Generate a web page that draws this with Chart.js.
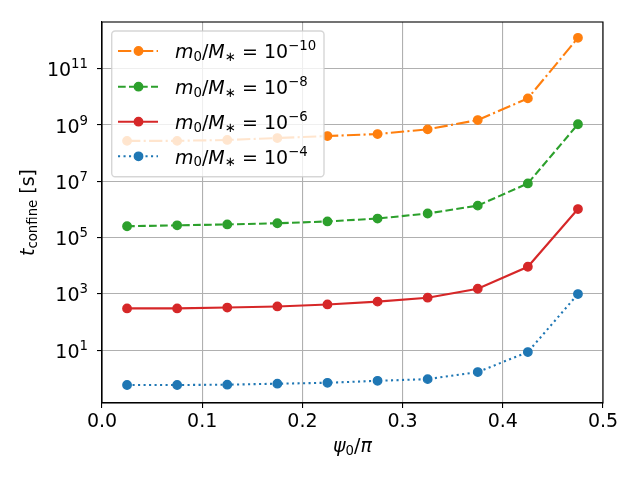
<!DOCTYPE html>
<html>
<head>
<meta charset="utf-8">
<script src="https://cdn.jsdelivr.net/npm/chart.js@4/dist/chart.umd.min.js"></script>
<style>
  html, body { margin: 0; padding: 0; background: #fff; }
  #wrap { width: 640px; height: 480px; }
</style>
</head>
<body>
<div id="wrap"><canvas id="c" width="640" height="480"></canvas></div>
<script>
// psi_0 / pi positions
const xVals = [0.025, 0.075, 0.125, 0.175, 0.225, 0.275, 0.325, 0.375, 0.425, 0.475];

// confinement time [s] for each mass ratio
const tRatio10 = [2.7e8, 2.7e8, 2.9e8, 3.4e8, 4.0e8, 4.7e8, 6.9e8, 1.48e9, 8.7e9, 1.23e12];
const tRatio8  = [2.5e5, 2.7e5, 2.9e5, 3.2e5, 3.7e5, 4.7e5, 7.1e5, 1.35e6, 8.3e6, 1.05e9];
const tRatio6  = [302, 302, 324, 355, 417, 525, 725, 1510, 9100, 1.02e6];
const tRatio4  = [0.575, 0.575, 0.59, 0.64, 0.69, 0.81, 0.93, 1.66, 8.5, 977];

const ratioExps = [-10, -8, -6, -4];
const xTicks = [0, 0.1, 0.2, 0.3, 0.4, 0.5];
const yTickExps = [1, 3, 5, 7, 9, 11];

const FONT = '"DejaVu Sans"';
const FS = 19;

const series = [
    { vals: tRatio10, color: '#ff7f0e', dash: [13.3, 3.3, 2.1, 3.3] },
    { vals: tRatio8,  color: '#2ca02c', dash: [7.7, 3.3] },
    { vals: tRatio6,  color: '#d62728', dash: [] },
    { vals: tRatio4,  color: '#1f77b4', dash: [2.1, 3.4] }
];

const datasets = series.map((s, k) => ({
    label: 'm0/M* = 10^' + ratioExps[k],
    data: xVals.map((x, i) => ({ x: x, y: s.vals[i] })),
    borderColor: s.color,
    backgroundColor: s.color,
    borderWidth: 2.1,
    borderDash: s.dash,
    pointRadius: 4.2,
    pointBorderWidth: 1.4,
    pointHoverRadius: 4.2,
    tension: 0
}));

// --- small mathtext-like helpers ---
function runFont(r, size) {
    const sz = (r.sub || r.sup) ? size * 0.7 : size;
    return (r.it ? 'italic ' : '') + sz + 'px ' + FONT;
}
function runsWidth(ctx, runs, size) {
    let w = 0;
    runs.forEach(r => { ctx.font = runFont(r, size); w += ctx.measureText(r.t).width; });
    return w;
}
function drawRuns(ctx, runs, x, y, size) {
    ctx.textAlign = 'left';
    ctx.textBaseline = 'alphabetic';
    runs.forEach(r => {
        ctx.font = runFont(r, size);
        let dy = 0;
        if (r.sub) dy = size * 0.15;
        if (r.sup) dy = -size * 0.42;
        ctx.fillText(r.t, x, y + dy);
        x += ctx.measureText(r.t).width;
    });
}
function expRuns(e) {
    return [{ t: '10' }, { t: String(e).replace('-', '\u2212'), sup: true }];
}
function legendRuns(e) {
    return [{ t: 'm', it: true }, { t: '0', sub: true }, { t: '/' }, { t: 'M', it: true },
            { t: '\u2217', sub: true }, { t: ' = ' }].concat(expRuns(e));
}

const decor = {
    id: 'decor',
    beforeDraw(chart) {
        const ctx = chart.ctx;
        ctx.save();
        ctx.fillStyle = '#fff';
        ctx.fillRect(0, 0, chart.width, chart.height);
        ctx.restore();
    },
    afterDatasetsDraw(chart) {
        const ctx = chart.ctx, a = chart.chartArea;
        ctx.save();
        // spines
        ctx.strokeStyle = '#000';
        ctx.lineWidth = 1.1;
        ctx.strokeRect(a.left, a.top, a.right - a.left, a.bottom - a.top);

        // legend box
        const lx = 111.7, ly = 31, lw = 212.3, lh = 145.7, rad = 3.5;
        ctx.beginPath();
        ctx.roundRect(lx, ly, lw, lh, rad);
        ctx.fillStyle = 'rgba(255,255,255,0.8)';
        ctx.fill();
        ctx.strokeStyle = 'rgba(204,204,204,0.8)';
        ctx.lineWidth = 1.4;
        ctx.stroke();

        const rows = [51, 86.7, 121.7, 156.3];
        chart.data.datasets.forEach((ds, k) => {
            const y = rows[k];
            ctx.strokeStyle = ds.borderColor;
            ctx.lineWidth = ds.borderWidth;
            ctx.setLineDash(ds.borderDash);
            ctx.beginPath();
            ctx.moveTo(118, y);
            ctx.lineTo(158, y);
            ctx.stroke();
            ctx.setLineDash([]);
            ctx.beginPath();
            ctx.arc(138.5, y, ds.pointRadius, 0, Math.PI * 2);
            ctx.fillStyle = ds.backgroundColor;
            ctx.fill();
            ctx.lineWidth = ds.pointBorderWidth;
            ctx.stroke();
            ctx.fillStyle = '#000';
            drawRuns(ctx, legendRuns(ratioExps[k]), 175, y + 7.3, FS);
        });
        ctx.restore();
    },
    afterDraw(chart) {
        const ctx = chart.ctx, a = chart.chartArea;
        const ys = chart.scales.y;
        ctx.save();
        ctx.fillStyle = '#000';
        // y tick labels
        yTickExps.forEach(e => {
            const py = ys.getPixelForValue(Math.pow(10, e));
            const runs = expRuns(e);
            const w = runsWidth(ctx, runs, FS);
            drawRuns(ctx, runs, 88 - w, py + 7.7, FS);
        });
        // x axis label
        const xl = [{ t: '\u03c8', it: true }, { t: '0', sub: true }, { t: '/' }, { t: '\u03c0', it: true }];
        const xw = runsWidth(ctx, xl, FS);
        drawRuns(ctx, xl, (a.left + a.right) / 2 - xw / 2, 452.4, FS);
        // y axis label
        const yl = [{ t: 't', it: true }, { t: 'confine', sub: true }, { t: ' [s]' }];
        const yw = runsWidth(ctx, yl, FS);
        ctx.translate(34, (a.top + a.bottom) / 2);
        ctx.rotate(-Math.PI / 2);
        drawRuns(ctx, yl, -yw / 2, 0, FS);
        ctx.restore();
    }
};

new Chart(document.getElementById('c'), {
    type: 'line',
    data: { datasets: datasets },
    options: {
        responsive: false,
        animation: false,
        events: [],
        layout: { padding: { left: 0, top: 22, right: 37, bottom: 0 } },
        plugins: { legend: { display: false }, tooltip: { enabled: false } },
        scales: {
            x: {
                type: 'linear',
                min: 0, max: 0.5,
                afterBuildTicks: s => { s.ticks = xTicks.map(v => ({ value: v })); },
                afterFit: s => { s.height = 77; },
                ticks: {
                    color: '#000',
                    padding: 3,
                    maxRotation: 0,
                    font: { family: 'DejaVu Sans', size: FS },
                    callback: v => v.toFixed(1)
                },
                grid: { color: '#b0b0b0', lineWidth: 1.1, tickColor: '#000', tickLength: 5, tickWidth: 1.1 },
                border: { color: '#000', width: 1.1 }
            },
            y: {
                type: 'logarithmic',
                min: 0.132, max: 4.49e12,
                afterBuildTicks: s => { s.ticks = yTickExps.map(e => ({ value: Math.pow(10, e) })); },
                afterFit: s => { s.width = 102; },
                ticks: { display: false },
                grid: { color: '#b0b0b0', lineWidth: 1.1, tickColor: '#000', tickLength: 5, tickWidth: 1.1 },
                border: { color: '#000', width: 1.1 }
            }
        }
    },
    plugins: [decor]
});
</script>
</body>
</html>
